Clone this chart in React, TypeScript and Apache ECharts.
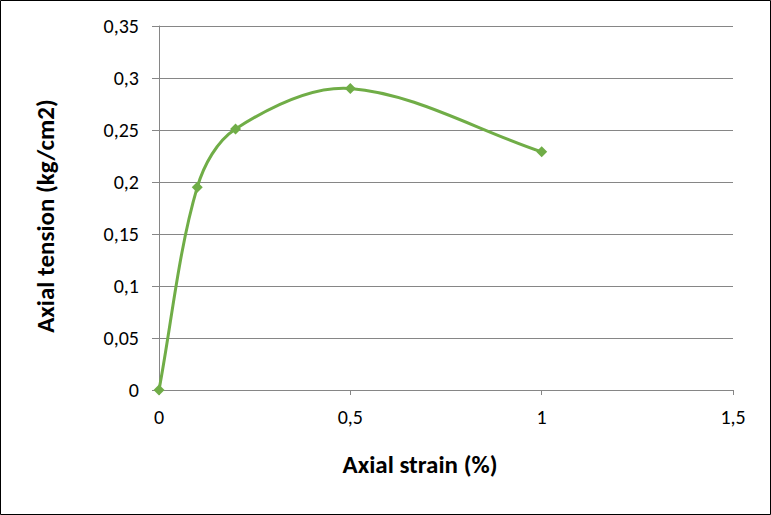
import React, { useEffect, useRef } from "react";
import * as echarts from "echarts";

const strain = [0, 0.1, 0.2, 0.5, 1.0];
const tension = [0, 0.195, 0.251, 0.29, 0.229];
const xTicks = [0, 0.5, 1, 1.5];
const yTicks = [0, 0.05, 0.1, 0.15, 0.2, 0.25, 0.3, 0.35];
const xTitle = "Axial strain (%)";
const yTitle = "Axial tension (kg/cm2)";

const fmt = (v: number) => String(Math.round(v * 100) / 100).replace(".", ",");

export default function App() {
  const ref = useRef<HTMLDivElement>(null);
  useEffect(() => {
    const chart = echarts.init(ref.current!, undefined, { renderer: "svg" });
    const font = "Carlito, 'Liberation Sans', Arial, sans-serif";
    const green = "#70AD47";
    chart.setOption({
      animation: false,
      backgroundColor: "#ffffff",
      grid: { left: 159, right: 38, top: 26, bottom: 125 },
      xAxis: {
        type: "value",
        min: xTicks[0],
        max: xTicks[xTicks.length - 1],
        interval: 0.5,
        axisLine: { lineStyle: { color: "#868686", width: 1 } },
        axisTick: { show: true, length: 5, inside: false, lineStyle: { color: "#868686" } },
        axisLabel: { formatter: fmt, color: "#000", fontSize: 20, fontFamily: font, margin: 17 },
        splitLine: { show: false },
      },
      yAxis: {
        type: "value",
        min: yTicks[0],
        max: yTicks[yTicks.length - 1],
        interval: 0.05,
        axisLine: { show: true, lineStyle: { color: "#868686", width: 1 } },
        axisTick: { show: true, length: 7, lineStyle: { color: "#868686" } },
        axisLabel: { formatter: fmt, color: "#000", fontSize: 20, fontFamily: font, margin: 20 },
        splitLine: { show: true, lineStyle: { color: "#868686", width: 1 } },
      },
      series: [
        {
          type: "custom",
          coordinateSystem: "cartesian2d",
          data: [[strain[0], tension[0]]],
          silent: true,
          z: 2,
          renderItem: (_params: any, api: any) => {
            const pts = strain.map((x, i) => api.coord([x, tension[i]]));
            const n = pts.length;
            const s = 1 / 3;
            const dist = (a: number[], b: number[]) => Math.hypot(a[0] - b[0], a[1] - b[1]);
            let d = `M${pts[0][0]},${pts[0][1]}`;
            for (let i = 0; i < n - 1; i++) {
              const p0 = pts[Math.max(i - 1, 0)];
              const p1 = pts[i];
              const p2 = pts[i + 1];
              const p3 = pts[Math.min(i + 2, n - 1)];
              const d01 = dist(p0, p1);
              const d12 = dist(p1, p2);
              const d23 = dist(p2, p3);
              const k1 = (s * d12) / (d01 + d12);
              const k2 = (s * d12) / (d12 + d23);
              const c1x = p1[0] + (p2[0] - p0[0]) * k1;
              const c1y = p1[1] + (p2[1] - p0[1]) * k1;
              const c2x = p2[0] - (p3[0] - p1[0]) * k2;
              const c2y = p2[1] - (p3[1] - p1[1]) * k2;
              d += ` C${c1x},${c1y} ${c2x},${c2y} ${p2[0]},${p2[1]}`;
            }
            return {
              type: "path",
              shape: { pathData: d },
              style: { stroke: green, lineWidth: 3, fill: "none" },
            };
          },
        },
        {
          type: "line",
          data: strain.map((x, i) => [x, tension[i]]),
          symbol: "diamond",
          symbolSize: 11,
          z: 3,
          lineStyle: { opacity: 0 },
          itemStyle: { color: green },
        },
      ],
      graphic: [
        {
          type: "text",
          x: 420,
          y: 464,
          style: {
            text: xTitle,
            fontSize: 25,
            fontWeight: "bold",
            fontFamily: font,
            fill: "#000",
            align: "center",
            verticalAlign: "middle",
          },
        },
        {
          type: "text",
          x: 45,
          y: 216,
          rotation: Math.PI / 2,
          style: {
            text: yTitle,
            fontSize: 25,
            fontWeight: "bold",
            fontFamily: font,
            fill: "#000",
            align: "center",
            verticalAlign: "middle",
          },
        },
        {
          type: "rect",
          shape: { x: 0.5, y: 0.5, width: 770, height: 514 },
          style: { fill: "none", stroke: "#000", lineWidth: 1 },
          silent: true,
        },
      ],
    });
    return () => chart.dispose();
  }, []);
  return (
    <div
      ref={ref}
      style={{ position: "fixed", left: 0, top: 0, width: 771, height: 515 }}
    />
  );
}
